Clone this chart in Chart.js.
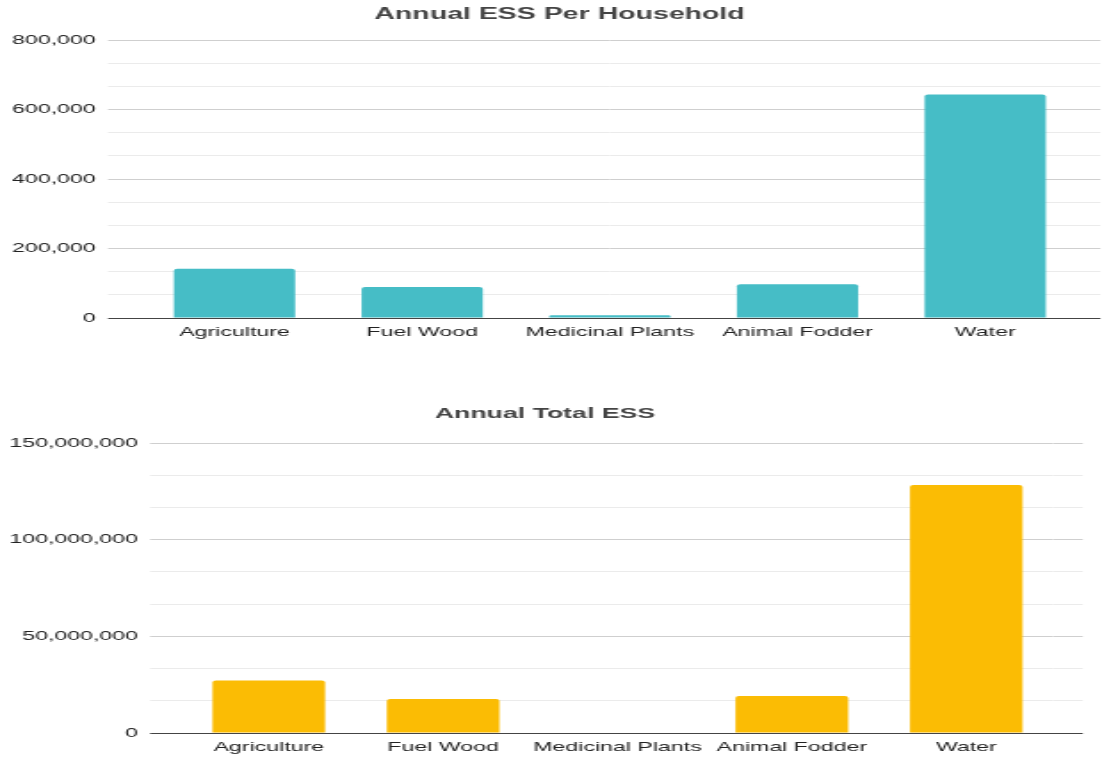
<!DOCTYPE html>
<html>
<head>
<meta charset="utf-8">
<script src="https://cdn.jsdelivr.net/npm/chart.js@4/dist/chart.umd.min.js"></script>
<style>
  html, body { margin: 0; padding: 0; background: #fff; overflow: hidden; }
  body { width: 1102px; height: 757px; position: relative; }
  .wrap { position: absolute; left: 0; transform-origin: 0 0; transform: scaleX(1.7803); }
  #w1 { top: 0; width: 619px; height: 350px; }
  #w2 { top: 380px; width: 619px; height: 377px; }
  canvas { display: block; }
</style>
</head>
<body>
<div class="wrap" id="w1"><canvas id="c1" width="619" height="350"></canvas></div>
<div class="wrap" id="w2"><canvas id="c2" width="619" height="377"></canvas></div>
<script>
// ---- data ----
const categories = ['Agriculture', 'Fuel Wood', 'Medicinal Plants', 'Animal Fodder', 'Water'];
const perHousehold = [142000, 89300, 8000, 97000, 643500];
const totalESS = [27100000, 17600000, 0, 19200000, 128300000];
const title1 = 'Annual ESS Per Household';
const title2 = 'Annual Total ESS';
const axis1 = { max: 800000, major: 200000, count: 13 };
const axis2 = { max: 150000000, major: 50000000, count: 10 };

const FONT = "'Liberation Sans', Arial, sans-serif";

function isMajor(v, major) {
  const r = v / major;
  return Math.abs(r - Math.round(r)) < 1e-6;
}
function gridColor(major) {
  return (ctx) => {
    const v = ctx.tick ? ctx.tick.value : null;
    if (v === null) return '#ebebeb';
    if (Math.abs(v) < 1e-6) return '#444444';
    return isMajor(v, major) ? '#cfcfcf' : '#ebebeb';
  };
}

function makeChart(id, data, color, title, ax, L) {
  new Chart(document.getElementById(id), {
    type: 'bar',
    data: {
      labels: categories,
      datasets: [{
        data: data,
        backgroundColor: color,
        borderRadius: 2,
        categoryPercentage: 1,
        barPercentage: 0.646
      }]
    },
    options: {
      responsive: false,
      animation: false,
      events: [],
      layout: { padding: { left: L.padL, right: L.padR, top: 0, bottom: 2 } },
      plugins: {
        legend: { display: false },
        tooltip: { enabled: false },
        title: {
          display: true,
          text: title,
          color: '#444444',
          font: { family: FONT, size: L.titleSize, weight: 'bold', lineHeight: 1.2 },
          padding: { top: L.titleTop, bottom: L.titleBottom }
        }
      },
      scales: {
        x: {
          z: 1,
          grid: { display: false, drawTicks: false },
          border: { display: true, color: '#444444', width: 1 },
          ticks: {
            color: '#222222',
            font: { family: FONT, size: 13 },
            padding: L.xPad,
            maxRotation: 0,
            minRotation: 0,
            autoSkip: false
          },
          afterFit: (s) => { s.height = L.xHeight; }
        },
        y: {
          position: 'left',
          min: 0,
          max: ax.max,
          border: { display: false },
          grid: {
            color: gridColor(ax.major),
            lineWidth: 1,
            tickLength: L.leftTick
          },
          ticks: {
            count: ax.count,
            color: '#222222',
            font: { family: FONT, size: 13 },
            padding: L.yPad,
            autoSkip: false,
            callback: (v) => isMajor(v, ax.major) ? Math.round(v).toLocaleString('en-US') : ''
          },
          afterFit: (s) => { s.width = L.leftWidth; }
        },
        yR: {
          position: 'right',
          min: 0,
          max: ax.max,
          border: { display: false },
          grid: {
            color: gridColor(ax.major),
            lineWidth: 1,
            drawOnChartArea: false,
            tickLength: L.rightTick
          },
          ticks: { count: ax.count, display: false },
          afterFit: (s) => { s.width = L.rightWidth; }
        }
      }
    }
  });
}

makeChart('c1', perHousehold, '#46BDC6', title1, axis1, {
  titleSize: 16, titleTop: 5, titleBottom: 16, xPad: 7, xHeight: 30,
  padL: 0, padR: -9.6,
  leftTick: 18.3, yPad: 7, leftWidth: 79, rightTick: 12, rightWidth: 22.5
});
makeChart('c2', totalESS, '#FBBC04', title2, axis2, {
  titleSize: 15, titleTop: 25, titleBottom: 20, xPad: 7, xHeight: 22,
  padL: 0, padR: 6.8,
  leftTick: 17.7, yPad: 6.8, leftWidth: 102, rightTick: 16.5, rightWidth: 20.5
});
</script>
</body>
</html>
